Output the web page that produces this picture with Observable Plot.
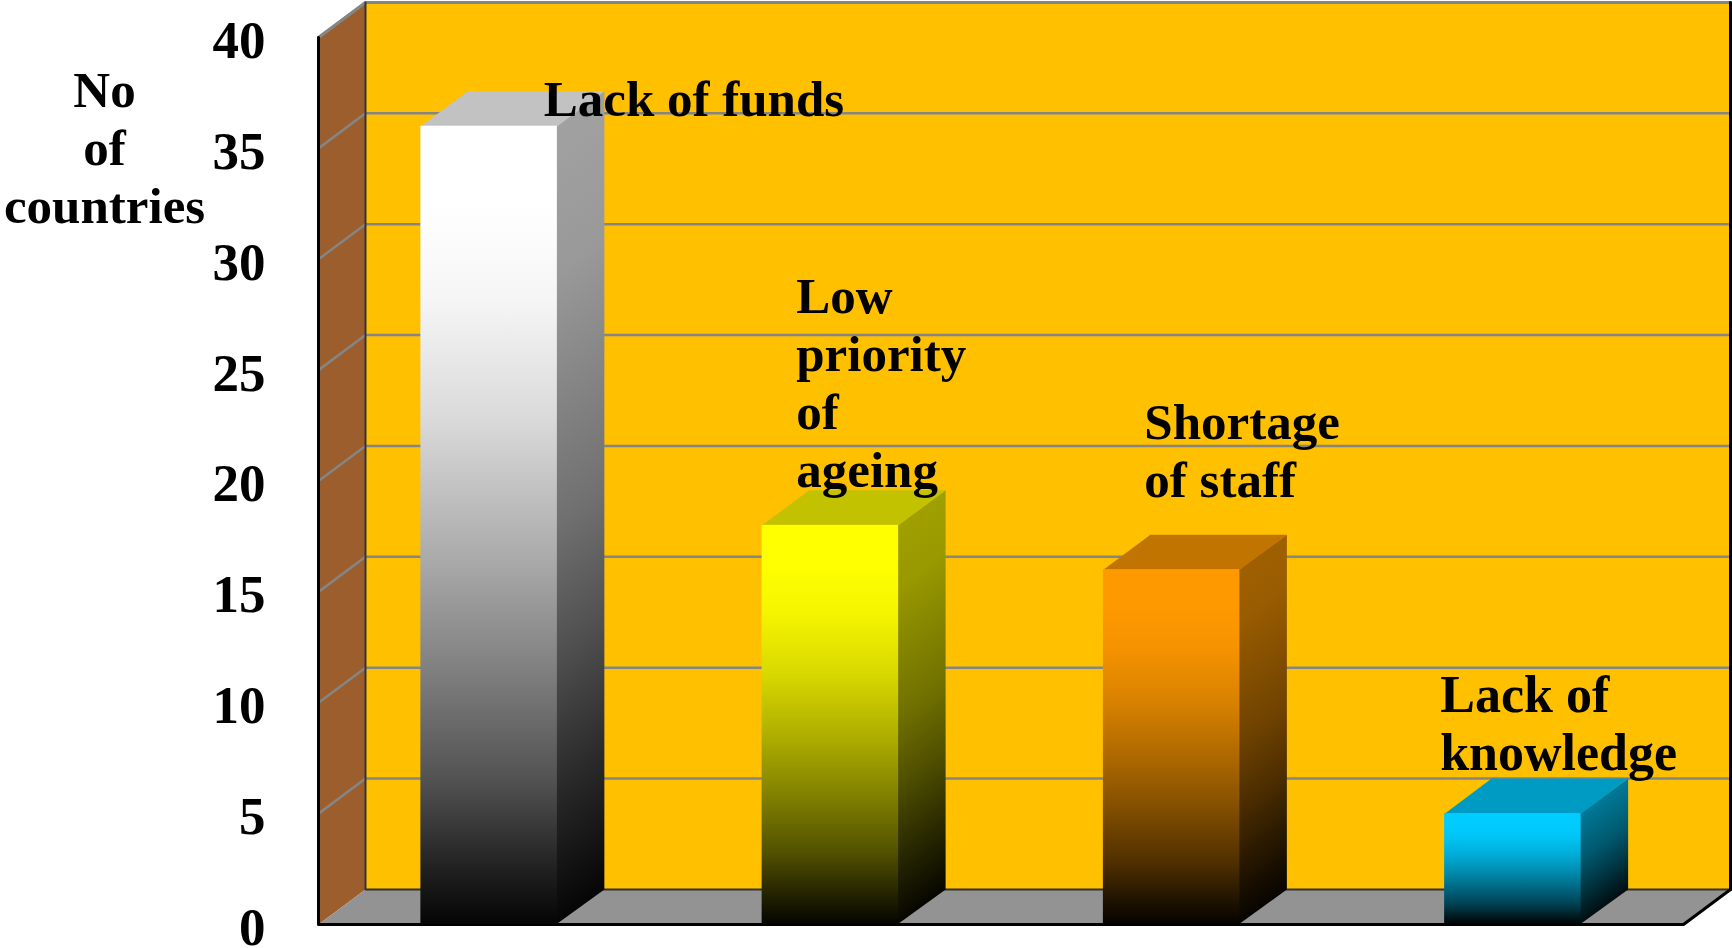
<!DOCTYPE html>
<html>
<head>
<meta charset="utf-8">
<script src="https://cdn.jsdelivr.net/npm/d3@7"></script>
<script src="https://cdn.jsdelivr.net/npm/@observablehq/plot@0.6"></script>
<style>html,body{margin:0;padding:0;background:#fff}svg{display:block}</style>
</head>
<body>
<div id="chart"></div>
<script>
const categories = ["Lack of funds", "Low priority of ageing", "Shortage of staff", "Lack of knowledge"];
const values = [36, 18, 16, 5];
const labelTexts = ["Lack of funds", "Low\npriority\nof\nageing", "Shortage\nof staff", "Lack of\nknowledge"];
const barColors = [[255,255,255], [255,255,0], [255,153,0], [0,204,255]];
const yTicks = [0, 5, 10, 15, 20, 25, 30, 35, 40];
const axisTitle = "No\nof\ncountries";

// Oblique depth of the box, in data units
const depthX = 0.1377, depthY = 1.58;
const barHalf = 0.2;
const nCat = categories.length, yMax = 40;

const rgb = (c, k) => `rgb(${c.map(v => Math.round(v * k)).join(",")})`;
const frontStops = [[0,1],[0.1,1],[0.22,0.96],[0.37,0.85],[0.54,0.67],[0.68,0.5],[0.82,0.32],[0.93,0.13],[1,0.02]];
const sideStops = [[0,0.64],[0.22,0.6],[0.52,0.44],[0.68,0.31],[0.83,0.17],[1,0.02]];

function gradientDefs() {
  const defs = d3.create("svg:defs");
  barColors.forEach((c, i) => {
    const f = defs.append("linearGradient").attr("id", `front${i}`)
      .attr("x1", 0).attr("y1", 0).attr("x2", 0).attr("y2", 1);
    frontStops.forEach(([o, k]) => f.append("stop").attr("offset", o).attr("stop-color", rgb(c, k)));
    const s = defs.append("linearGradient").attr("id", `side${i}`)
      .attr("x1", 0).attr("y1", 0).attr("x2", depthY / (values[i] + depthY)).attr("y2", 1);
    sideStops.forEach(([o, k]) => s.append("stop").attr("offset", o).attr("stop-color", rgb(c, k)));
  });
  return defs.node();
}

const poly = (pts, fill) => Plot.line(pts, {x: d => d[0], y: d => d[1], fill, stroke: "none"});
const seg = (pts, stroke, strokeWidth) => Plot.line(pts, {x: d => d[0], y: d => d[1], stroke, strokeWidth});

const grid = yTicks.filter(t => t > 0).flatMap(t => [
  seg([[0, t], [depthX, t + depthY], [nCat + depthX, t + depthY]], "#858585", 2.5)
]);

const seam = 0.004; // side face tucks slightly under the front face
const bars = values.flatMap((v, i) => {
  const a = i + 0.5 - barHalf, b = i + 0.5 + barHalf;
  return [
    poly([[b - seam, 0], [b + depthX, depthY], [b + depthX, v + depthY], [b - seam, v]], `url(#side${i})`),
    poly([[a, v], [b, v], [b + depthX, v + depthY], [a + depthX, v + depthY]], rgb(barColors[i], 0.76)),
    Plot.rect([v], {x1: a, x2: b, y1: 0, y2: d => d, fill: `url(#front${i})`})
  ];
});

// label anchors: [x in category units, y in value units]
const labelAnchors = [[0.66, 37.31], [1.40, 24.51], [2.42, 21.41], [3.287, 9.11]];
const labelSizes = [51, 51, 51, 52];

const chart = Plot.plot({
  width: 1732, height: 948,
  marginLeft: 318, marginRight: 2, marginTop: 37, marginBottom: 24,
  x: {domain: [0, nCat + depthX], axis: null},
  y: {domain: [0, yMax]},
  style: {fontFamily: "'Liberation Serif', serif", fontWeight: "bold", color: "#000", background: "#fff", overflow: "visible"},
  marks: [
    gradientDefs,
    poly([[depthX, depthY], [nCat + depthX, depthY], [nCat + depthX, yMax + depthY], [depthX, yMax + depthY]], "#ffc000"),
    poly([[0, 0], [depthX, depthY], [depthX, yMax + depthY], [0, yMax]], "#9c5e2c"),
    poly([[0, 0], [nCat, 0], [nCat + depthX, depthY], [depthX, depthY]], "#939393"),
    ...grid,
    seg([[0, yMax], [depthX, yMax + depthY], [nCat + depthX, yMax + depthY]], "#858585", 3),
    seg([[depthX, yMax + depthY], [depthX, depthY], [nCat + depthX, depthY]], "#333", 2),
    seg([[nCat + depthX, yMax + depthY], [nCat + depthX, depthY]], "#000", 3),
    seg([[0, yMax], [0, 0], [nCat, 0], [nCat + depthX, depthY]], "#000", 3),
    ...bars,
    Plot.axisY({ticks: yTicks, tickSize: 0, tickPadding: 53, dy: 3.5, fontSize: 53, fontWeight: "bold", label: null}),
    ...labelTexts.map((t, i) => Plot.text([t], {
      x: labelAnchors[i][0], y: labelAnchors[i][1],
      text: d => d, textAnchor: "start", lineAnchor: "middle", lineHeight: 58 / labelSizes[i],
      fontSize: labelSizes[i], fontWeight: "bold", fill: "#000"
    })),
    Plot.text([axisTitle], {
      x: -0.627, y: 35.07, text: d => d, textAnchor: "middle", lineAnchor: "middle", lineHeight: 58 / 51,
      fontSize: 51, fontWeight: "bold", fill: "#000"
    })
  ]
});
document.getElementById("chart").append(chart);
</script>
</body>
</html>
